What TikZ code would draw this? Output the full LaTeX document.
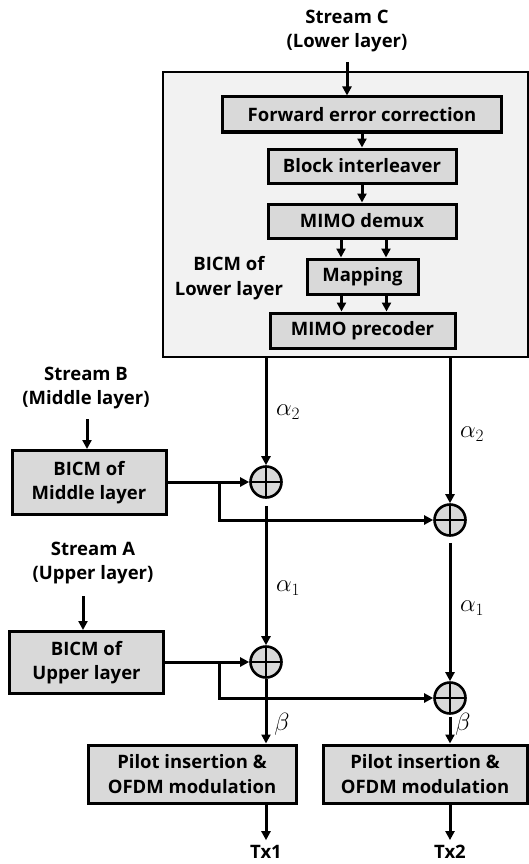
\documentclass[tikz,border=0pt]{standalone}
\usepackage{fontspec}
\setmainfont{Open Sans}
\usetikzlibrary{arrows.meta}
\definecolor{boxgray}{HTML}{D9D9D9}
\definecolor{bggray}{HTML}{F2F2F2}
\begin{document}
\begin{tikzpicture}[x=1pt,y=-1pt,
  arr/.style={line width=3pt,-{Triangle[length=9pt,width=9pt]}},
  blk/.style={draw,line width=3pt,fill=boxgray,inner sep=0pt,align=center,
    font=\bfseries\fontsize{18.5}{24.5}\selectfont},
  lbl/.style={inner sep=0pt,align=center,font=\bfseries\fontsize{18.5}{24.5}\selectfont},
  mlbl/.style={inner sep=0pt,font=\fontsize{23}{26}\selectfont},
  adder/.style={circle,draw,line width=2.6pt,fill=boxgray,minimum size=31pt,inner sep=0pt,
    path picture={\draw[line width=2.4pt] (path picture bounding box.north) -- (path picture bounding box.south)
      (path picture bounding box.west) -- (path picture bounding box.east);}}]
\useasboundingbox (0,0) rectangle (529,864);

% Lower layer BICM
\node[draw,line width=2.6pt,fill=bggray,minimum width=365pt,minimum height=285pt,inner sep=0pt] (big) at (345.5,214.5) {};
\node[lbl] (sc) at (347,31) {Stream C\\(Lower layer)};
\coordinate (c0) at (347,62);
\node[blk,minimum width=279pt,minimum height=35pt] (fec) at (362,114.5) {Forward error correction};
\node[blk,minimum width=188pt,minimum height=34pt] (bi) at (362,166) {Block interleaver};
\node[blk,minimum width=188pt,minimum height=34pt] (dm) at (362,221) {MIMO demux};
\node[blk,minimum width=111pt,minimum height=35pt] (map) at (362.5,276.5) {Mapping};
\node[blk,minimum width=185pt,minimum height=35pt] (pre) at (362.5,330.5) {MIMO precoder};
\node[lbl] (bl) at (229,278) {BICM of\\Lower layer};
\draw[arr] (c0) -- (c0 |- fec.north);
\draw[arr] (fec) -- (bi);
\draw[arr] (bi) -- (dm);
\draw[arr] ([xshift=-21pt]dm.south) -- ([xshift=-21pt]dm.south |- map.north);
\draw[arr] ([xshift=24pt]dm.south) -- ([xshift=24pt]dm.south |- map.north);
\draw[arr] ([xshift=-21pt]map.south) -- ([xshift=-21pt]map.south |- pre.north);
\draw[arr] ([xshift=24pt]map.south) -- ([xshift=24pt]map.south |- pre.north);

% adders
\node[adder] (a1) at (266,482) {};
\node[adder] (a2) at (450,520) {};
\node[adder] (a3) at (266,662) {};
\node[adder] (a4) at (450,698) {};

% Middle layer
\node[lbl] (sb) at (86,388) {Stream B\\(Middle layer)};
\coordinate (b0) at (87,419);
\node[blk,minimum width=154pt,minimum height=64pt] (bm) at (89,482.5) {BICM of\\Middle layer};
\draw[arr] (b0) -- (b0 |- bm.north);
\coordinate (bb) at (219,482);
\draw[arr] (bm.east |- a1) -- (a1.west);
\draw[arr] (bb) -- (bb |- a2) -- (a2.west);

% Upper layer
\node[lbl] (sa) at (93,563) {Stream A\\(Upper layer)};
\coordinate (u0) at (83,596);
\node[blk,minimum width=154pt,minimum height=62pt] (bu) at (86.5,662.5) {BICM of\\Upper layer};
\draw[arr] (u0) -- (u0 |- bu.north);
\coordinate (ub) at (219,662);
\draw[arr] (bu.east |- a3) -- (a3.west);
\draw[arr] (ub) -- (ub |- a4) -- (a4.west);

% verticals
\draw[arr] (big.south -| a1) -- (a1.north);
\draw[arr] (big.south -| a2) -- (a2.north);
\draw[arr] ([yshift=-7pt]a1.south) -- (a3.north);
\draw[arr] ([yshift=-6pt]a2.south) -- (a4.north);

\node[mlbl] (al2a) at (288,412) {$\alpha_2$};
\node[mlbl] (al2b) at (472,434) {$\alpha_2$};
\node[mlbl] (al1a) at (288,588) {$\alpha_1$};
\node[mlbl] (al1b) at (472,608) {$\alpha_1$};

% pilot boxes
\node[blk,minimum width=208pt,minimum height=58pt] (p1) at (192,774) {Pilot insertion \&\\OFDM modulation};
\node[blk,minimum width=204pt,minimum height=58pt] (p2) at (425,774) {Pilot insertion \&\\OFDM modulation};
\draw[arr] (a3.south) -- (a3.south |- p1.north);
\draw[arr] ([yshift=-2pt]a4.south) -- (a4.south |- p2.north);
\node[mlbl] (be1) at (282,724) {$\beta$};
\node[mlbl] (be2) at (463,724) {$\beta$};

\node[lbl] (tx1) at (266,852) {Tx1};
\node[lbl] (tx2) at (450,852) {Tx2};
\draw[arr] (p1.south -| tx1) -- ([yshift=5pt]tx1.north);
\draw[arr] (p2.south -| tx2) -- ([yshift=5pt]tx2.north);
\end{tikzpicture}
\end{document}
